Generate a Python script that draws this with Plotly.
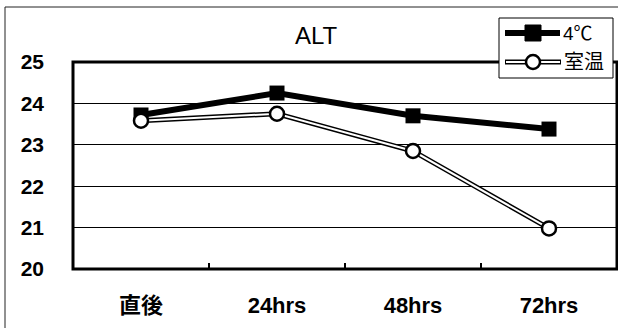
import plotly.graph_objects as go

categories = ["直後", "24hrs", "48hrs", "72hrs"]
cold_values = [23.72, 24.25, 23.70, 23.38]
room_values = [23.58, 23.75, 22.85, 20.98]
series_names = ["4℃", "室温"]
y_ticks = [20, 21, 22, 23, 24, 25]
title_text = "ALT"

W, H = 618, 328
L, R, T, B = 73, 1, 62, 59
PW = W - L - R
PH = H - T - B

def px(x):
    return (x - L) / PW

def py(y):
    return (H - B - y) / PH

FONT = "Liberation Sans, Arial, Noto Sans CJK JP"

fig = go.Figure()

fig.add_trace(go.Scatter(
    x=categories, y=cold_values, mode="lines+markers", name=series_names[0],
    line=dict(color="black", width=6),
    marker=dict(symbol="square", size=15, color="black"),
    showlegend=False, cliponaxis=False,
))
fig.add_trace(go.Scatter(
    x=categories, y=room_values, mode="lines", name=series_names[1],
    line=dict(color="black", width=5), showlegend=False, cliponaxis=False,
))
fig.add_trace(go.Scatter(
    x=categories, y=room_values, mode="lines+markers", name=series_names[1],
    line=dict(color="white", width=2),
    marker=dict(symbol="circle", size=14, color="white",
                line=dict(color="black", width=2.5)),
    showlegend=False, cliponaxis=False,
))

shapes = []
shapes.append(dict(type="rect", xref="paper", yref="paper",
                   x0=px(5), x1=px(640), y0=py(7), y1=py(340),
                   line=dict(color="#222", width=1), layer="below"))
shapes.append(dict(type="rect", xref="paper", yref="paper",
                   x0=0, x1=1, y0=0, y1=1,
                   line=dict(color="black", width=3)))

lx0, lx1, ly0, ly1 = 499, 613, 18, 78
shapes.append(dict(type="rect", xref="paper", yref="paper",
                   x0=px(lx0), x1=px(lx1), y0=py(ly0), y1=py(ly1),
                   line=dict(color="black", width=1), fillcolor="white"))
y1e = 33
shapes.append(dict(type="line", xref="paper", yref="paper",
                   x0=px(505), x1=px(560), y0=py(y1e), y1=py(y1e),
                   line=dict(color="black", width=6)))
shapes.append(dict(type="rect", xref="paper", yref="paper",
                   xsizemode="pixel", ysizemode="pixel",
                   xanchor=px(533), yanchor=py(y1e),
                   x0=-8, x1=8, y0=-8, y1=8,
                   line=dict(color="black", width=1), fillcolor="black"))
y2e = 62
shapes.append(dict(type="line", xref="paper", yref="paper",
                   x0=px(505), x1=px(561), y0=py(y2e), y1=py(y2e),
                   line=dict(color="black", width=5)))
shapes.append(dict(type="line", xref="paper", yref="paper",
                   x0=px(506), x1=px(560), y0=py(y2e), y1=py(y2e),
                   line=dict(color="white", width=2)))
shapes.append(dict(type="circle", xref="paper", yref="paper",
                   xsizemode="pixel", ysizemode="pixel",
                   xanchor=px(533), yanchor=py(y2e),
                   x0=-7, x1=7, y0=-7, y1=7,
                   line=dict(color="black", width=2.5), fillcolor="white"))

annotations = [
    dict(text=series_names[0], xref="paper", yref="paper", x=px(561), y=py(y1e),
         xanchor="left", yanchor="middle", showarrow=False,
         font=dict(family=FONT, size=19, color="black")),
    dict(text=series_names[1], xref="paper", yref="paper", x=px(562), y=py(y2e),
         xanchor="left", yanchor="middle", showarrow=False,
         font=dict(family=FONT, size=20, color="black")),
]

fig.update_layout(
    width=W, height=H,
    margin=dict(l=L, r=R, t=T, b=B),
    paper_bgcolor="white", plot_bgcolor="white",
    title=dict(text=title_text, x=316 / W, xref="container", xanchor="center",
               y=1 - 36 / H, yref="container", yanchor="middle",
               font=dict(family=FONT, size=24, color="black")),
    shapes=shapes, annotations=annotations,
    showlegend=False,
    xaxis=dict(type="category", tickson="boundaries", ticks="inside",
               ticklen=6, tickwidth=1.5, tickcolor="black",
               showgrid=False, showline=False, zeroline=False,
               tickfont=dict(family=FONT, size=22, color="black", weight="bold"),
               ticklabelstandoff=21, range=[-0.5, 3.5]),
    yaxis=dict(range=[20, 25], tickvals=y_ticks, ticktext=[str(v) for v in y_ticks],
               showgrid=True, gridcolor="black", gridwidth=1,
               zeroline=False, showline=False, ticks="",
               tickfont=dict(family=FONT, size=21, color="black", weight="bold"),
               ticklabelstandoff=28),
)

fig.write_html("out.html")
